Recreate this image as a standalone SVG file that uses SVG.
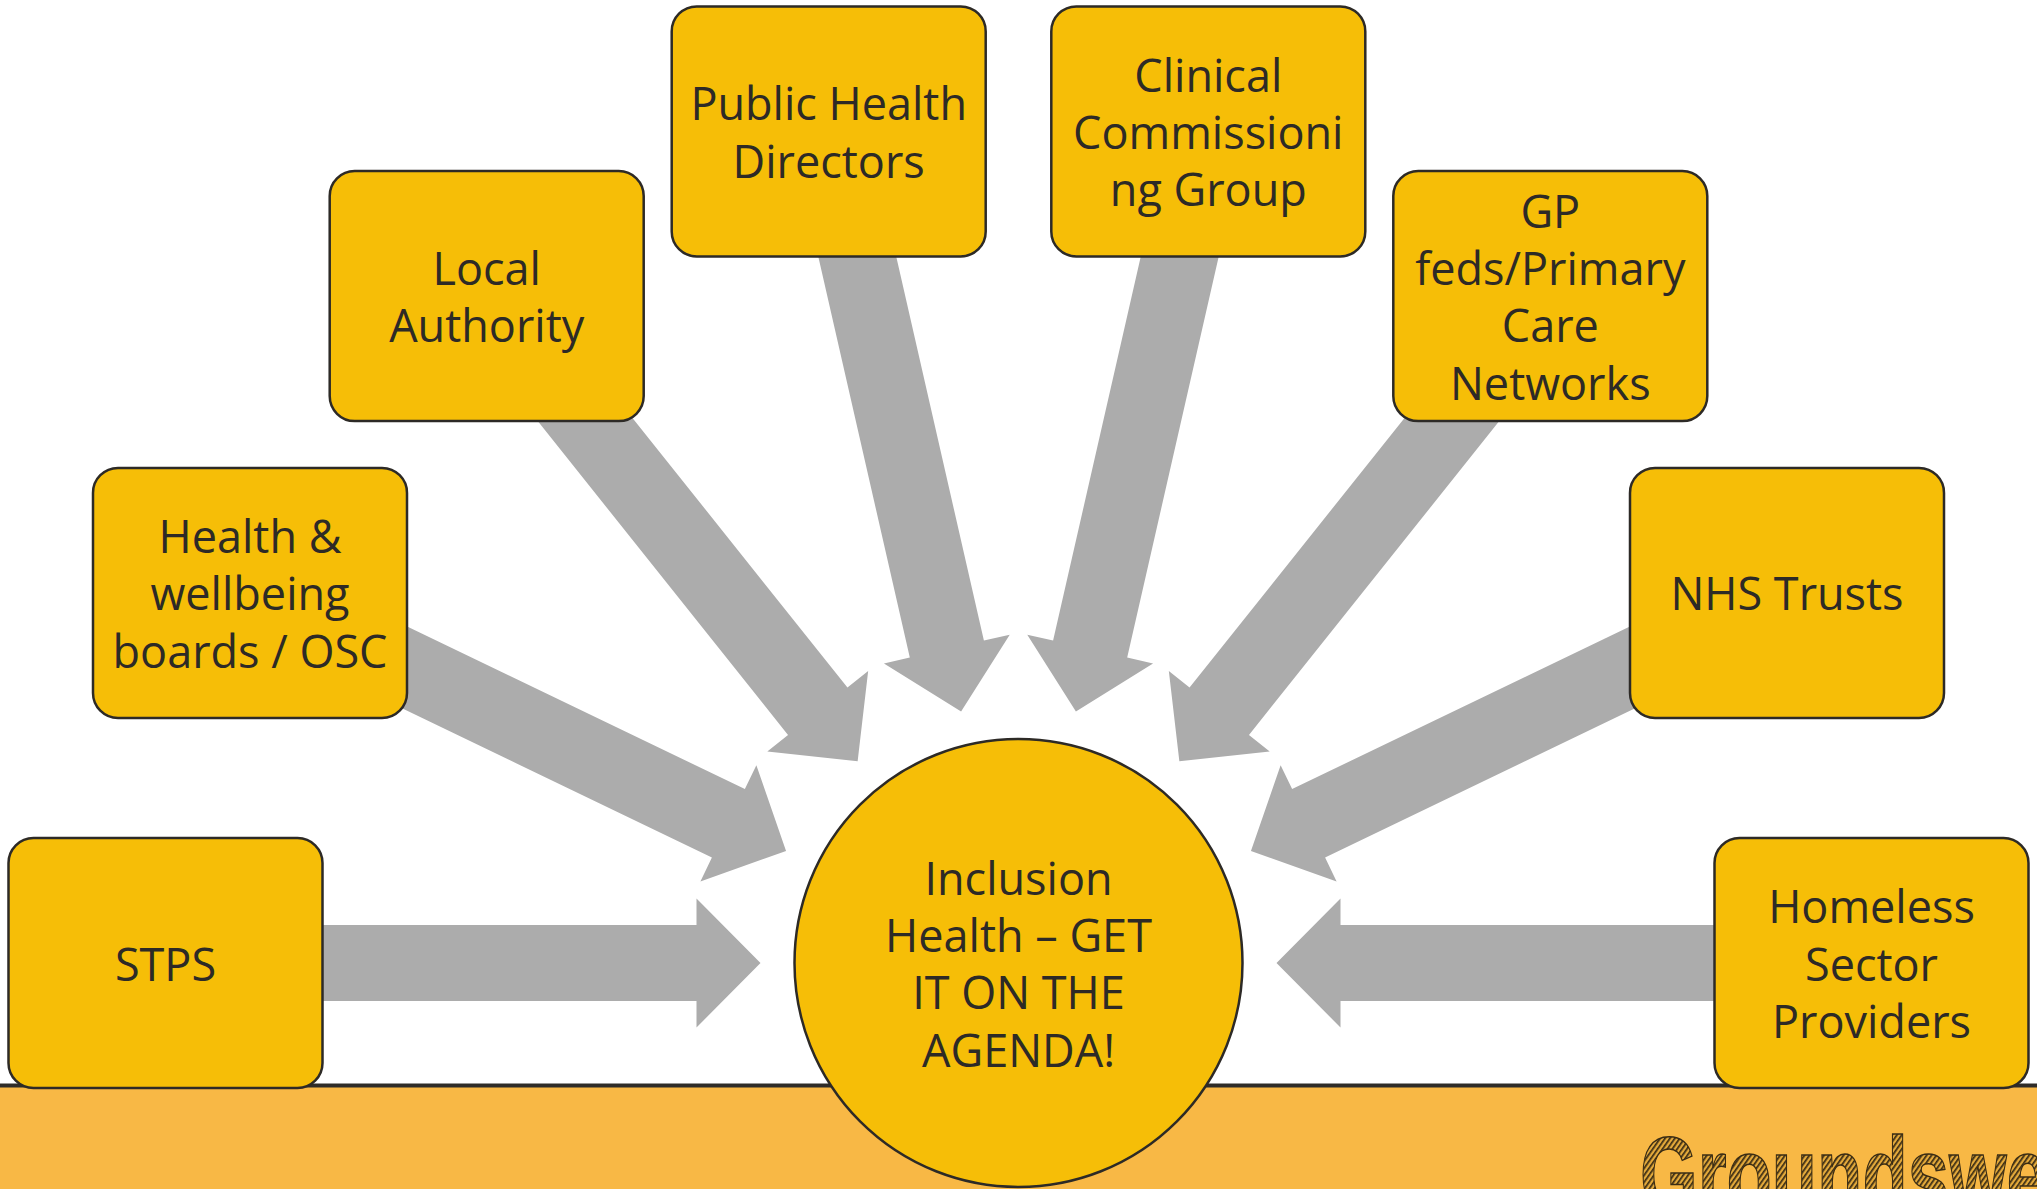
<svg xmlns="http://www.w3.org/2000/svg" width="2037" height="1189" viewBox="0 0 2037 1189">
<style>
.box{fill:#F6BE07;stroke:#2d2a26;stroke-width:2.5}
.lbl{font-family:"Open Sans","Noto Sans","DejaVu Sans",sans-serif;font-size:45px;fill:#2d2a26;text-anchor:middle}
.arr{fill:#ACACAC}
</style>
<defs>
<polygon id="arrow" points="760.5,963 696.5,898.5 696.5,925 165.5,925 165.5,1001 696.5,1001 696.5,1027.5"/>
<pattern id="hatch" width="4" height="4" patternUnits="userSpaceOnUse" patternTransform="rotate(-55)">
<rect width="4" height="4" fill="#E3A93A"/>
<rect width="4" height="1.7" fill="#3a2c14"/>
</pattern>
</defs>
<rect width="2037" height="1189" fill="#ffffff"/>
<g id="band">
<rect x="0" y="1086" width="2037" height="103" fill="#F8B845"/>
<rect x="0" y="1083.5" width="2037" height="4" fill="#2f2c28"/>
<text x="1640" y="1212" font-family="'Liberation Sans',Arial,sans-serif" font-weight="bold" font-size="107" textLength="449" lengthAdjust="spacingAndGlyphs" fill="url(#hatch)" stroke="#3a2c14" stroke-width="1.5">Groundswell</text>
</g>
<g id="connectors" class="arr">
<use href="#arrow"/>
<use href="#arrow" transform="rotate(25.714 1018.5 963)"/>
<use href="#arrow" transform="rotate(51.429 1018.5 963)"/>
<use href="#arrow" transform="rotate(77.143 1018.5 963)"/>
<use href="#arrow" transform="rotate(102.857 1018.5 963)"/>
<use href="#arrow" transform="rotate(128.571 1018.5 963)"/>
<use href="#arrow" transform="rotate(154.286 1018.5 963)"/>
<use href="#arrow" transform="rotate(180 1018.5 963)"/>
</g>
<g id="stps">
<rect class="box" x="8.5" y="838" width="314" height="250" rx="25"/>
<text class="lbl" x="165.5" y="980.5">STPS</text>
</g>
<g id="health-wellbeing">
<rect class="box" x="93" y="467.9" width="314" height="250" rx="25"/>
<text class="lbl" x="250" y="553.1">Health &amp;</text>
<text class="lbl" x="250" y="610.4">wellbeing</text>
<text class="lbl" x="250" y="667.7">boards / OSC</text>
</g>
<g id="local-authority">
<rect class="box" x="329.7" y="171.1" width="314" height="250" rx="25"/>
<text class="lbl" x="486.7" y="285">Local</text>
<text class="lbl" x="486.7" y="342.3">Authority</text>
</g>
<g id="public-health">
<rect class="box" x="671.7" y="6.4" width="314" height="250" rx="25"/>
<text class="lbl" x="828.7" y="120.3">Public Health</text>
<text class="lbl" x="828.7" y="177.6">Directors</text>
</g>
<g id="ccg">
<rect class="box" x="1051.3" y="6.4" width="314" height="250" rx="25"/>
<text class="lbl" x="1208.3" y="91.6">Clinical</text>
<text class="lbl" x="1208.3" y="148.9">Commissioni</text>
<text class="lbl" x="1208.3" y="206.2">ng Group</text>
</g>
<g id="gp-feds">
<rect class="box" x="1393.3" y="171.1" width="314" height="250" rx="25"/>
<text class="lbl" x="1550.3" y="227.7">GP</text>
<text class="lbl" x="1550.3" y="285">feds/Primary</text>
<text class="lbl" x="1550.3" y="342.3">Care</text>
<text class="lbl" x="1550.3" y="399.6">Networks</text>
</g>
<g id="nhs-trusts">
<rect class="box" x="1630" y="467.9" width="314" height="250" rx="25"/>
<text class="lbl" x="1787" y="610.4">NHS Trusts</text>
</g>
<g id="homeless">
<rect class="box" x="1714.5" y="838" width="314" height="250" rx="25"/>
<text class="lbl" x="1871.5" y="923.2">Homeless</text>
<text class="lbl" x="1871.5" y="980.5">Sector</text>
<text class="lbl" x="1871.5" y="1037.8">Providers</text>
</g>
<g id="inclusion-health">
<circle cx="1018.5" cy="963" r="224" fill="#F6BE07" stroke="#2d2a26" stroke-width="2.5"/>
<text class="lbl" x="1018.5" y="894.6">Inclusion</text>
<text class="lbl" x="1018.5" y="951.9">Health – GET</text>
<text class="lbl" x="1018.5" y="1009.2">IT ON THE</text>
<text class="lbl" x="1018.5" y="1066.5">AGENDA!</text>
</g>
</svg>
